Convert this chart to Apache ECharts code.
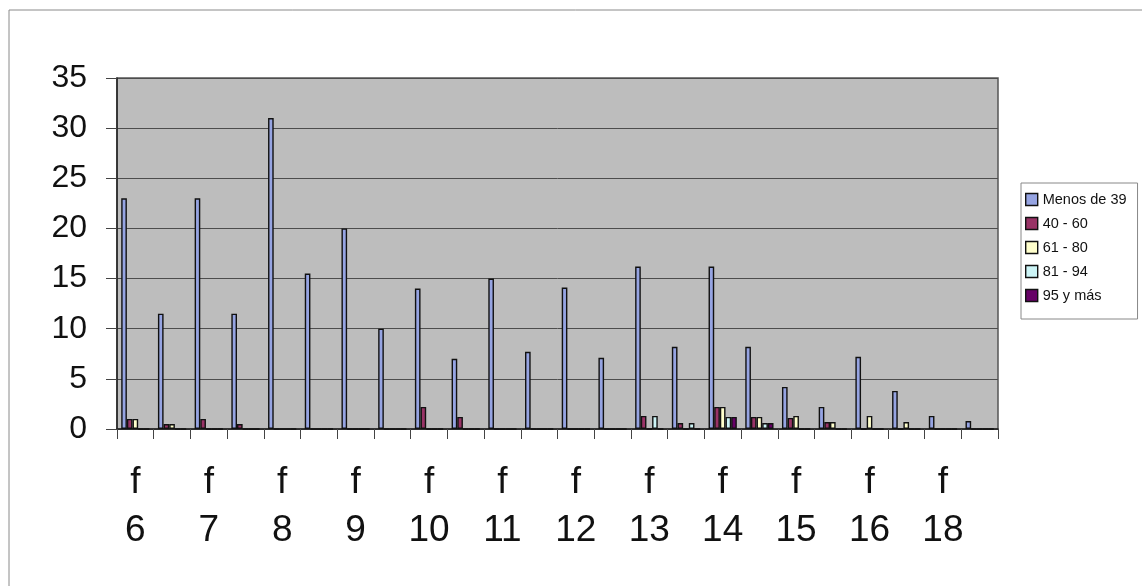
<!DOCTYPE html>
<html>
<head>
<meta charset="utf-8">
<script src="https://cdn.jsdelivr.net/npm/echarts@6/dist/echarts.min.js"></script>
<style>
html,body{margin:0;padding:0;background:#fff;}
#chart{width:1142px;height:586px;}
</style>
</head>
<body>
<div id="chart"></div>
<script>
var categories = ['f\n6','m\n6','f\n7','m\n7','f\n8','m\n8','f\n9','m\n9','f\n10','m\n10','f\n11','m\n11',
                  'f\n12','m\n12','f\n13','m\n13','f\n14','m\n14','f\n15','m\n15','f\n16','m\n16','f\n18','m\n18'];
var seriesNames = ['Menos de 39','40 - 60','61 - 80','81 - 94','95 y más'];
var menos39 = [23, 11.5, 23, 11.5, 31, 15.5, 20, 10, 14, 7, 15, 7.7, 14.1, 7.1, 16.2, 8.2, 16.2, 8.2, 4.2, 2.2, 7.2, 3.8, 1.3, 0.8];
var r40_60  = [1, 0.5, 1, 0.5, 0, 0, 0, 0, 2.2, 1.2, 0, 0, 0, 0, 1.3, 0.6, 2.2, 1.2, 1.1, 0.7, 0, 0, 0, 0];
var r61_80  = [1, 0.5, 0, 0, 0, 0, 0, 0, 0, 0, 0, 0, 0, 0, 0, 0, 2.2, 1.2, 1.3, 0.7, 1.3, 0.7, 0, 0];
var r81_94  = [0, 0, 0, 0, 0, 0, 0, 0, 0, 0, 0, 0, 0, 0, 1.3, 0.6, 1.2, 0.6, 0, 0, 0, 0, 0, 0];
var r95mas  = [0, 0, 0, 0, 0, 0, 0, 0, 0, 0, 0, 0, 0, 0, 0, 0, 1.2, 0.6, 0, 0, 0, 0, 0, 0];
var yTicks = [0, 5, 10, 15, 20, 25, 30, 35];

var colors = ['#96A4E2', '#993366', '#FFFFCC', '#CCF4F6', '#660066'];
var allData = [menos39, r40_60, r61_80, r81_94, r95mas];
var FONT = 'Liberation Sans, Arial, sans-serif';

var chart = echarts.init(document.getElementById('chart'), null, {renderer: 'canvas'});
var series = seriesNames.map(function (n, i) {
  return {
    name: n,
    type: 'bar',
    data: allData[i],
    barGap: '0%',
    barCategoryGap: '23%',
    itemStyle: {color: colors[i], borderColor: '#111', borderWidth: 1.4},
    emphasis: {disabled: true},
    animation: false
  };
});

chart.setOption({
  animation: false,
  grid: {
    left: 117, right: 144, top: 78, bottom: 157,
    show: true, backgroundColor: '#BDBDBD', borderColor: '#555', borderWidth: 1.5
  },
  legend: {
    orient: 'vertical',
    left: 1021, top: 183,
    itemWidth: 12, itemHeight: 12, itemGap: 9,
    padding: [9, 11, 16, 4],
    borderColor: '#888', borderWidth: 1,
    icon: 'rect',
    textStyle: {fontFamily: FONT, fontSize: 14.5, color: '#111', lineHeight: 12},
    itemStyle: {borderColor: '#111', borderWidth: 1.4},
    data: seriesNames
  },
  xAxis: {
    type: 'category',
    data: categories,
    boundaryGap: true,
    axisLine: {lineStyle: {color: '#222', width: 1.5}},
    axisTick: {show: true, interval: 0, length: 10, lineStyle: {color: '#444'}},
    axisLabel: {interval: 1, margin: 30, fontFamily: FONT, fontSize: 37, lineHeight: 48, color: '#111'},
    splitLine: {show: false}
  },
  yAxis: {
    type: 'value',
    min: yTicks[0], max: yTicks[yTicks.length - 1], interval: 5,
    axisLine: {show: true, lineStyle: {color: '#222', width: 1.5}},
    axisTick: {show: true, length: 11, lineStyle: {color: '#444'}},
    axisLabel: {margin: 30, fontFamily: FONT, fontSize: 32, color: '#111'},
    splitLine: {show: true, lineStyle: {color: '#4d4d4d', width: 1}}
  },
  graphic: [
    {type: 'line', shape: {x1: 9, y1: 10, x2: 1142, y2: 10}, style: {stroke: '#8a8a8a', lineWidth: 1}, silent: true},
    {type: 'line', shape: {x1: 9, y1: 10, x2: 9, y2: 586}, style: {stroke: '#8a8a8a', lineWidth: 1}, silent: true}
  ],
  series: series
});
</script>
</body>
</html>
